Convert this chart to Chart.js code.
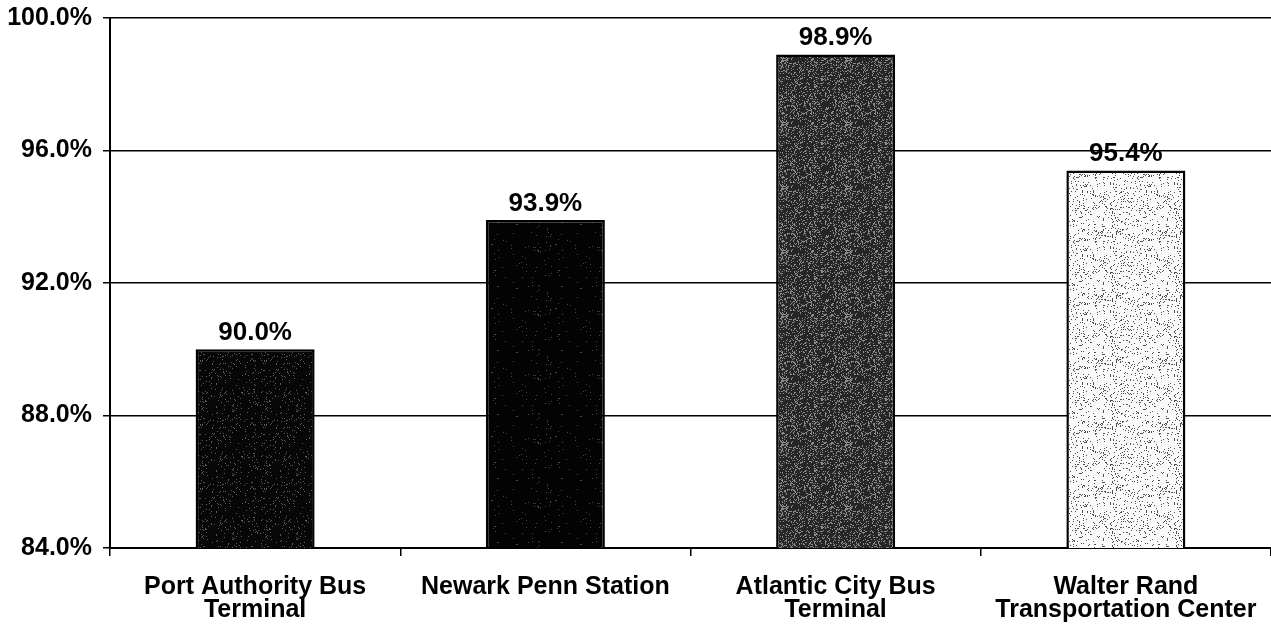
<!DOCTYPE html>
<html>
<head>
<meta charset="utf-8">
<script src="https://cdn.jsdelivr.net/npm/chart.js@4.4.1/dist/chart.umd.min.js"></script>
<style>
  html, body { margin: 0; padding: 0; background: #fff; }
  #wrap { width: 1271px; height: 637px; position: relative; }
</style>
</head>
<body>
<div id="wrap"><canvas id="c" width="1271" height="637"></canvas></div>
<script>
const categories = [
  ["Port Authority Bus", "Terminal"],
  ["Newark Penn Station"],
  ["Atlantic City Bus", "Terminal"],
  ["Walter Rand", "Transportation Center"]
];
const values = [90.0, 93.9, 98.9, 95.4];
const yTicks = [84, 88, 92, 96, 100];

// deterministic speckle texture (styling only)
function speckle(base, dot, density, seed) {
  const c = document.createElement('canvas');
  c.width = 64; c.height = 64;
  const g = c.getContext('2d');
  g.fillStyle = base; g.fillRect(0, 0, 64, 64);
  g.fillStyle = dot;
  let s = seed;
  for (let y = 0; y < 64; y++) {
    for (let x = 0; x < 64; x++) {
      s = (s * 1103515245 + 12345) & 0x7fffffff;
      if ((s % 1000) / 1000 < density) g.fillRect(x, y, 1, 1);
    }
  }
  return g.createPattern(c, 'repeat');
}
const fills = [
  speckle('#070707', '#5a5a5a', 0.06, 7),
  speckle('#030303', '#4a4a4a', 0.015, 11),
  speckle('#262626', '#8a8a8a', 0.22, 13),
  speckle('#fafafa', '#505050', 0.09, 17)
];

const FONT = "'Liberation Sans', Arial, sans-serif";

const dataLabels = {
  id: 'dataLabels',
  afterDatasetsDraw(chart) {
    const ctx = chart.ctx;
    const meta = chart.getDatasetMeta(0);
    ctx.save();
    ctx.font = "bold 26px " + FONT;
    ctx.fillStyle = '#000';
    ctx.textAlign = 'center';
    ctx.textBaseline = 'alphabetic';
    meta.data.forEach((bar, i) => {
      ctx.fillText(values[i].toFixed(1) + '%', bar.x, bar.y - 9);
    });
    ctx.restore();
  }
};

new Chart(document.getElementById('c'), {
  type: 'bar',
  data: {
    labels: categories,
    datasets: [{
      data: values,
      backgroundColor: fills,
      borderColor: '#000',
      borderWidth: 2.5,
      borderSkipped: false,
      categoryPercentage: 1.0,
      barPercentage: 0.41
    }]
  },
  options: {
    responsive: false,
    animation: false,
    devicePixelRatio: 1,
    layout: { padding: { top: 18, right: 0, bottom: 0, left: 0 } },
    plugins: { legend: { display: false }, tooltip: { enabled: false } },
    scales: {
      x: {
        offset: true,
        grid: {
          display: true,
          drawOnChartArea: false,
          drawTicks: true,
          tickLength: 8,
          color: '#000',
          lineWidth: 1.5,
          offset: true
        },
        border: { display: true, color: '#000', width: 2 },
        ticks: {
          color: '#000',
          font: { family: FONT, size: 25, weight: 'bold', lineHeight: 0.92 },
          padding: 20,
          maxRotation: 0,
          autoSkip: false
        },
        afterFit(axis) {
          axis.height = 89;
          axis.paddingLeft = 0; axis.paddingRight = 0;
        }
      },
      y: {
        min: 84, max: 100,
        afterBuildTicks(axis) { axis.ticks = yTicks.map(v => ({ value: v })); },
        grid: {
          color: '#000',
          lineWidth: 1.5,
          drawTicks: true,
          tickLength: 7
        },
        border: { display: true, color: '#000', width: 2 },
        ticks: {
          color: '#000',
          font: { family: FONT, size: 25, weight: 'bold' },
          padding: 11,
          callback: v => v.toFixed(1) + '%'
        },
        afterFit(axis) {
          axis.width = 110;
          axis.paddingTop = 0; axis.paddingBottom = 0;
        }
      }
    }
  },
  plugins: [dataLabels]
});
</script>
</body>
</html>
